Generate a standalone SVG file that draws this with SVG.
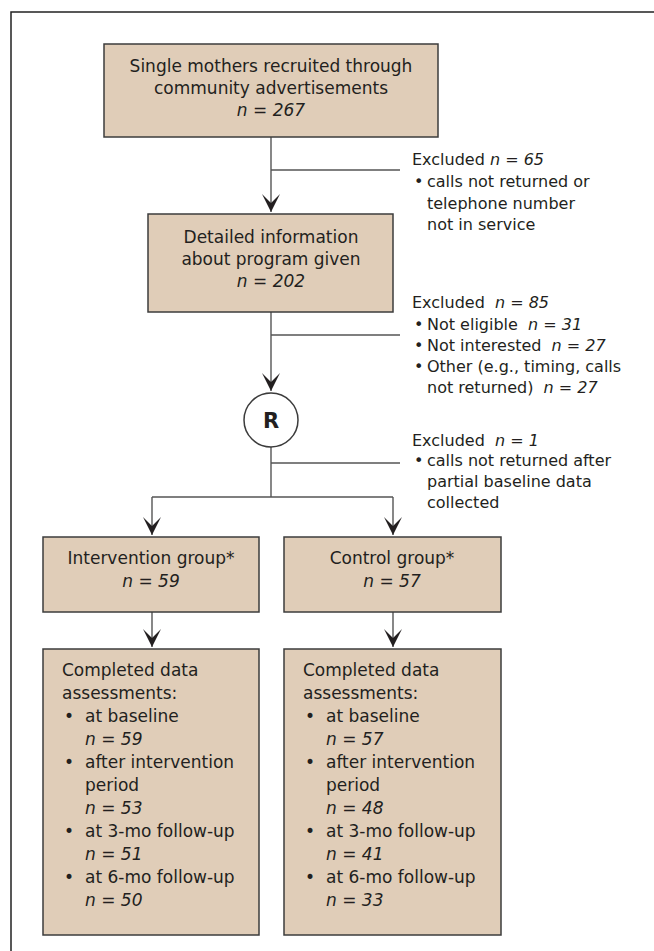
<svg xmlns="http://www.w3.org/2000/svg" width="654" height="951" viewBox="0 0 654 951">
<defs>
<style>
text{font-family:"DejaVu Sans","Liberation Sans",sans-serif;fill:#231f20}
.bx{fill:#e0cdb8;stroke:#3c3c3c;stroke-width:1.5}
.t{font-size:17px}
.s{font-size:16px}
.c{text-anchor:middle}
.i{font-style:italic}
.ln{fill:none;stroke:#555;stroke-width:1.4}
.fr{fill:none;stroke:#222;stroke-width:1.5}
</style>
<marker id="ah" viewBox="0 0 20 18" refX="19" refY="9" markerWidth="20" markerHeight="18" markerUnits="userSpaceOnUse" orient="auto">
<path d="M1,0 L10,9 L1,18 L19,9 Z" fill="#231f20"/>
</marker>
</defs>
<rect width="654" height="951" fill="#fff"/>
<path class="fr" d="M11,951 V12 H654"/>

<g id="connectors">
<path class="ln" d="M271,137 V212" marker-end="url(#ah)"/>
<path class="ln" d="M271,170 H400"/>
<path class="ln" d="M271,312 V391" marker-end="url(#ah)"/>
<path class="ln" d="M271,335 H400"/>
<path class="ln" d="M271,447 V497"/>
<path class="ln" d="M271,463 H400"/>
<path class="ln" d="M152,497 H393"/>
<path class="ln" d="M152,497 V535" marker-end="url(#ah)"/>
<path class="ln" d="M393,497 V535" marker-end="url(#ah)"/>
<path class="ln" d="M152,612 V647" marker-end="url(#ah)"/>
<path class="ln" d="M393,612 V647" marker-end="url(#ah)"/>
</g>

<g id="recruited">
<rect class="bx" x="104" y="44" width="334" height="93"/>
<text class="t c" x="271" y="72">Single mothers recruited through</text>
<text class="t c" x="271" y="94">community advertisements</text>
<text class="t c i" x="271" y="116">n = 267</text>
</g>

<g id="excluded1">
<text class="s" x="412" y="165">Excluded <tspan class="i">n = 65</tspan></text>
<text class="s" x="414" y="187">•</text>
<text class="s" x="427" y="187">calls not returned or</text>
<text class="s" x="427" y="209">telephone number</text>
<text class="s" x="427" y="230">not in service</text>
</g>

<g id="detailed">
<rect class="bx" x="148" y="214" width="245" height="98"/>
<text class="t c" x="271" y="243">Detailed information</text>
<text class="t c" x="271" y="265">about program given</text>
<text class="t c i" x="271" y="287">n = 202</text>
</g>

<g id="excluded2">
<text class="s" x="412" y="308">Excluded <tspan class="i" dx="5">n = 85</tspan></text>
<text class="s" x="414" y="330">•</text>
<text class="s" x="427" y="330">Not eligible <tspan class="i" dx="5">n = 31</tspan></text>
<text class="s" x="414" y="351">•</text>
<text class="s" x="427" y="351">Not interested <tspan class="i" dx="5">n = 27</tspan></text>
<text class="s" x="414" y="372">•</text>
<text class="s" x="427" y="372">Other (e.g., timing, calls</text>
<text class="s" x="427" y="393">not returned) <tspan class="i" dx="5">n = 27</tspan></text>
</g>

<g id="randomization">
<circle cx="271" cy="420" r="27" fill="#fff" stroke="#3c3c3c" stroke-width="1.5"/>
<text class="c" x="271" y="428" style="font-size:21px;font-weight:bold">R</text>
</g>

<g id="excluded3">
<text class="s" x="412" y="446">Excluded <tspan class="i" dx="5">n = 1</tspan></text>
<text class="s" x="414" y="466">•</text>
<text class="s" x="427" y="466">calls not returned after</text>
<text class="s" x="427" y="487">partial baseline data</text>
<text class="s" x="427" y="508">collected</text>
</g>

<g id="intervention">
<rect class="bx" x="43" y="537" width="216" height="75"/>
<text class="t c" x="151" y="564">Intervention group*</text>
<text class="t c i" x="151" y="587">n = 59</text>
</g>

<g id="control">
<rect class="bx" x="284" y="537" width="217" height="75"/>
<text class="t c" x="392" y="564">Control group*</text>
<text class="t c i" x="392" y="587">n = 57</text>
</g>

<g id="intervention-assessments">
<rect class="bx" x="43" y="649" width="216" height="286"/>
<text class="t" x="62" y="676">Completed data</text>
<text class="t" x="62" y="699">assessments:</text>
<text class="t" x="64" y="722">•</text>
<text class="t" x="85" y="722">at baseline</text>
<text class="t i" x="85" y="745">n = 59</text>
<text class="t" x="64" y="768">•</text>
<text class="t" x="85" y="768">after intervention</text>
<text class="t" x="85" y="791">period</text>
<text class="t i" x="85" y="814">n = 53</text>
<text class="t" x="64" y="837">•</text>
<text class="t" x="85" y="837">at 3-mo follow-up</text>
<text class="t i" x="85" y="860">n = 51</text>
<text class="t" x="64" y="883">•</text>
<text class="t" x="85" y="883">at 6-mo follow-up</text>
<text class="t i" x="85" y="906">n = 50</text>
</g>

<g id="control-assessments">
<rect class="bx" x="284" y="649" width="217" height="286"/>
<text class="t" x="303" y="676">Completed data</text>
<text class="t" x="303" y="699">assessments:</text>
<text class="t" x="305" y="722">•</text>
<text class="t" x="326" y="722">at baseline</text>
<text class="t i" x="326" y="745">n = 57</text>
<text class="t" x="305" y="768">•</text>
<text class="t" x="326" y="768">after intervention</text>
<text class="t" x="326" y="791">period</text>
<text class="t i" x="326" y="814">n = 48</text>
<text class="t" x="305" y="837">•</text>
<text class="t" x="326" y="837">at 3-mo follow-up</text>
<text class="t i" x="326" y="860">n = 41</text>
<text class="t" x="305" y="883">•</text>
<text class="t" x="326" y="883">at 6-mo follow-up</text>
<text class="t i" x="326" y="906">n = 33</text>
</g>
</svg>
